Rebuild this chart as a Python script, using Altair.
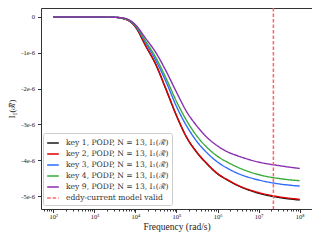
import altair as alt
import pandas as pd

freq = [100, 316.2, 1000, 3162, 5623, 10000, 17783, 31623, 56234, 100000,
        177828, 316228, 562341, 1000000, 1778279, 3162278, 10000000, 31622777, 100000000]

series_names = [
    "key 1, PODP, N = 13, I₁(ℛ̃)",
    "key 2, PODP, N = 13, I₁(ℛ̃)",
    "key 3, PODP, N = 13, I₁(ℛ̃)",
    "key 4, PODP, N = 13, I₁(ℛ̃)",
    "key 9, PODP, N = 13, I₁(ℛ̃)",
]
eddy_label = "eddy-current model valid"

# values in units of 1e-6
key1 = [0, 0, 0, -0.01, -0.06, -0.28, -0.81, -1.34, -2.04, -2.76, -3.37, -3.79, -4.11, -4.38, -4.56, -4.71, -4.92, -5.04, -5.11]
key2 = [0, 0, 0, -0.01, -0.06, -0.27, -0.80, -1.33, -2.03, -2.75, -3.36, -3.78, -4.10, -4.37, -4.55, -4.70, -4.90, -5.02, -5.09]
key3 = [0, 0, 0, -0.01, -0.05, -0.25, -0.72, -1.22, -1.82, -2.50, -3.05, -3.48, -3.80, -4.05, -4.23, -4.37, -4.55, -4.66, -4.72]
key4 = [0, 0, 0, -0.01, -0.05, -0.24, -0.68, -1.14, -1.72, -2.36, -2.90, -3.33, -3.65, -3.89, -4.06, -4.20, -4.40, -4.51, -4.57]
key9 = [0, 0, 0, -0.01, -0.04, -0.22, -0.60, -1.00, -1.52, -2.10, -2.65, -3.05, -3.37, -3.60, -3.77, -3.88, -4.05, -4.15, -4.23]

eddy_freq = [2.29e7]

colors = ["#1a1a1a", "#e00000", "#2f6bff", "#3aaa3a", "#8a2fb0", "#ff6464"]
dashes = [[1, 0], [1, 0], [1, 0], [1, 0], [1, 0], [3.5, 2]]

rows = []
for name, vals in zip(series_names, [key1, key2, key3, key4, key9]):
    for f, v in zip(freq, vals):
        rows.append({"freq": f, "val": v, "series": name})
df = pd.DataFrame(rows)
df_eddy = pd.DataFrame({"freq": eddy_freq, "series": [eddy_label]})

domain = series_names + [eddy_label]

x_minor = []
for k in range(1, 9):
    for m in range(1, 10):
        v = m * 10 ** k
        if 50 <= v <= 2e8:
            x_minor.append(v)

FONT = "Liberation Serif"
LFONT = "DejaVu Serif"

xscale = alt.Scale(type="log", domain=[10 ** 1.7, 10 ** 8.3], nice=False)
xaxis = alt.Axis(
    values=x_minor,
    labelExpr="abs(log(datum.value)/LN10 - round(log(datum.value)/LN10)) < 0.001 ? '10' + substring('⁰¹²³⁴⁵⁶⁷⁸⁹', round(log(datum.value)/LN10), round(log(datum.value)/LN10)+1) : ''",
    tickSize={"condition": {"test": "abs(log(datum.value)/LN10 - round(log(datum.value)/LN10)) < 0.001", "value": 3.5}, "value": 2},
    title="Frequency (rad/s)",
    titleFontSize=9.5, titleFont=FONT, titleFontWeight="normal", titlePadding=1, titleColor="#222",
    labelFont=FONT, labelFontSize=6.5, labelPadding=1, labelColor="#222",
    grid=False, domain=False, tickColor="#333", labelFlush=False, labelOverlap=False,
)
yscale = alt.Scale(domain=[-5.36, 0.25], nice=False, zero=False)
yaxis = alt.Axis(
    values=[0, -1, -2, -3, -4, -5],
    labelExpr="datum.value == 0 ? '0' : round(datum.value) + 'e-6'",
    title="I₁(ℛ̃)",
    titleFont=FONT, titleFontSize=8.5, titleFontWeight="normal", titleColor="#222",
    titleX=-25, titleAngle=-90,
    labelFont=FONT, labelFontSize=6.5, labelPadding=3, labelColor="#222",
    tickSize=3.5, tickColor="#333", grid=False, domain=False,
)

color = alt.Color("series:N", scale=alt.Scale(domain=domain, range=colors),
                  legend=alt.Legend(title=None, orient="none", legendX=2, legendY=125,
                                    fillColor="white", strokeColor="#cccccc", padding=3,
                                    cornerRadius=2, symbolType="stroke", symbolSize=135,
                                    symbolStrokeWidth=1.6, labelFont=LFONT, labelFontSize=7.6,
                                    labelColor="#333", rowPadding=0, labelOffset=6,
                                    labelLimit=220))
dash = alt.StrokeDash("series:N", scale=alt.Scale(domain=domain, range=dashes), legend=alt.Legend(title=None))

lines = alt.Chart(df).mark_line(strokeWidth=1.4, interpolate="monotone").encode(
    x=alt.X("freq:Q", scale=xscale, axis=xaxis),
    y=alt.Y("val:Q", scale=yscale, axis=yaxis),
    color=color,
    strokeDash=dash,
    order=alt.Order("freq:Q"),
)

rule = alt.Chart(df_eddy).mark_rule(strokeWidth=1.5).encode(
    x=alt.X("freq:Q", scale=xscale),
    color=color,
    strokeDash=dash,
)

chart = alt.layer(lines, rule).properties(
    width=271, height=201,
    autosize=alt.AutoSizeParams(type="none"),
    padding={"left": 33, "top": 0, "right": 0, "bottom": 23},
).configure_view(stroke="#333333", strokeWidth=1)

chart.save("out.html", embed_options={"renderer": "svg", "actions": False})
